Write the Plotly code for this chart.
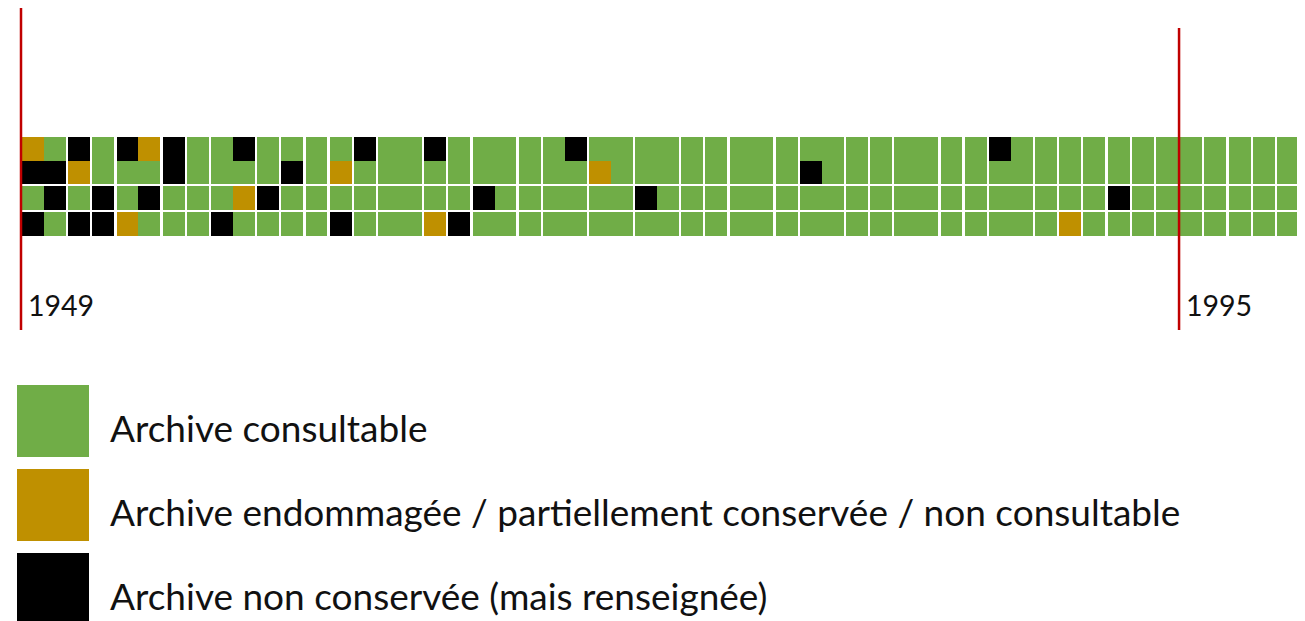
import plotly.graph_objects as go

# Etat des archives, une entrée par groupe (1 ou 2 cases de large)
# G = consultable, O = endommagée, B = non conservée
row1 = ["OG", "B", "G", "BO", "B", "G", "GB", "G", "G", "G", "G", "B", "GG", "B", "G", "GG", "G", "GB", "GG", "GG",
        "G", "G", "GG", "G", "GG", "G", "G", "GG", "G", "G", "BG", "G", "G", "G", "G", "G", "G", "G", "G", "G", "G", "G"]
row2 = ["BB", "O", "G", "GG", "B", "G", "GG", "G", "B", "G", "O", "G", "GG", "G", "G", "GG", "G", "GG", "OG", "GG",
        "G", "G", "GG", "G", "BG", "G", "G", "GG", "G", "G", "GG", "G", "G", "G", "G", "G", "G", "G", "G", "G", "G", "G"]
row3 = ["GB", "G", "B", "GB", "G", "G", "GO", "B", "G", "G", "G", "G", "GG", "G", "G", "BG", "G", "GG", "GG", "BG",
        "G", "G", "GG", "G", "GG", "G", "G", "GG", "G", "G", "GG", "G", "G", "G", "B", "G", "G", "G", "G", "G", "G", "G"]
row4 = ["BG", "B", "B", "OG", "G", "G", "BG", "G", "G", "G", "B", "G", "GG", "O", "B", "GG", "G", "GG", "GG", "GG",
        "G", "G", "GG", "G", "GG", "G", "G", "GG", "G", "G", "GG", "G", "O", "G", "G", "G", "G", "G", "G", "G", "G", "G"]

year_labels = ["1949", "1995"]
year_groups = [0, 37]  # groupe devant lequel tombe le repère

legend_codes = ["G", "O", "B"]
legend_labels = ["Archive consultable",
                 "Archive endommagée / partiellement conservée / non consultable",
                 "Archive non conservée (mais renseignée)"]

colors = {"G": "#70AD47", "O": "#BF9000", "B": "#000000"}
code_val = {"G": 0, "O": 1, "B": 2}

# géométrie (en pixels écran ; la page a une marge de 8 px)
X0, UNIT, GAP = 22, 21.9, 2.3
y_edges = [137, 160.5, 184, 186.3, 209.8, 212.1, 235.6]
OFF = 8

x_edges = [X0]
cols = []
group_start = []
for gi in range(len(row1)):
    w = len(row1[gi])
    group_start.append(x_edges[-1])
    for u in range(w):
        cols.append([code_val[row1[gi][u]], code_val[row2[gi][u]], None,
                     code_val[row3[gi][u]], None, code_val[row4[gi][u]]])
        x_edges.append(x_edges[-1] + UNIT)
    if gi < len(row1) - 1:
        cols.append([None] * 6)
        x_edges.append(x_edges[-1] + GAP)

z = [[c[r] for c in cols] for r in range(6)]

fig = go.Figure()
fig.add_trace(go.Heatmap(
    x=x_edges, y=y_edges, z=z,
    zmin=0, zmax=2, showscale=False, hoverinfo="skip",
    colorscale=[[0, colors["G"]], [0.25, colors["G"]], [0.25, colors["O"]], [0.75, colors["O"]],
                [0.75, colors["B"]], [1, colors["B"]]],
))

# repères rouges
line_tops = [7, 28]
annotations = []
for lab, g, top in zip(year_labels, year_groups, line_tops):
    xp = group_start[g] - (1 if g == 0 else GAP / 2)
    fig.add_trace(go.Scatter(x=[xp, xp], y=[top, 330], mode="lines",
                             line=dict(color="#C00000", width=2.5), hoverinfo="skip"))
    annotations.append(dict(x=xp + 5, y=305, text=lab, showarrow=False, xanchor="left", yanchor="middle",
                            font=dict(family="Lato", size=28.5, color="#111111")))

# légende
leg_y = [421, 505, 589]
fig.add_trace(go.Scatter(x=[53] * 3, y=leg_y, mode="markers", hoverinfo="skip",
                         marker=dict(symbol="square", size=72, line=dict(width=0),
                                     color=[colors[c] for c in legend_codes])))
for lab, yy in zip(legend_labels, leg_y):
    annotations.append(dict(x=108, y=yy + 6, text=lab, showarrow=False, xanchor="left", yanchor="middle",
                            font=dict(family="Lato", size=37, color="#111111")))

fig.update_layout(
    width=1305, height=621,
    margin=dict(l=0, r=0, t=0, b=0),
    plot_bgcolor="white", paper_bgcolor="white",
    showlegend=False,
    annotations=annotations,
    xaxis=dict(range=[OFF, 1305 + OFF], visible=False, fixedrange=True),
    yaxis=dict(range=[621 + OFF, OFF], visible=False, fixedrange=True),
)

fig.write_html("out.html")
